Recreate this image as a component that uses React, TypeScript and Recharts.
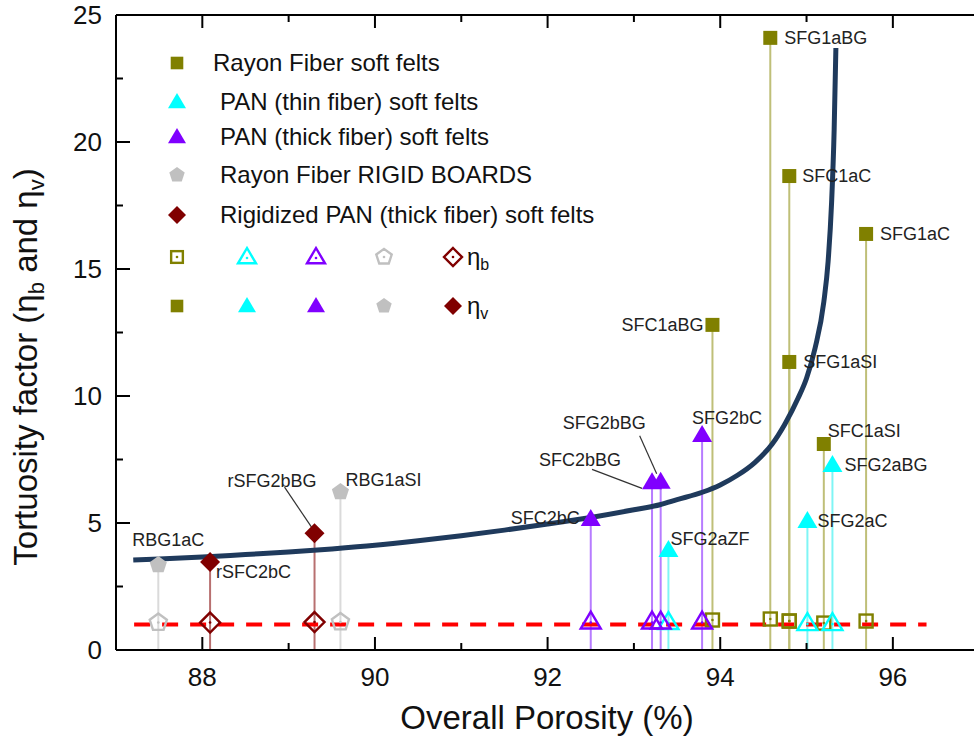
import { ComposedChart, XAxis, YAxis, Line, Scatter, ReferenceLine } from 'recharts';

type Sample = { name: string; porosity: number; etaV: number; etaB: number };

// η_v (filled) and η_b (open) per sample, porosity in %
const rayonSoftFelts: Sample[] = [
  { name: 'SFG1aBG', porosity: 94.58, etaV: 24.1, etaB: 1.22 },
  { name: 'SFC1aC', porosity: 94.8, etaV: 18.66, etaB: 1.14 },
  { name: 'SFG1aC', porosity: 95.69, etaV: 16.38, etaB: 1.14 },
  { name: 'SFC1aBG', porosity: 93.91, etaV: 12.8, etaB: 1.18 },
  { name: 'SFG1aSI', porosity: 94.8, etaV: 11.34, etaB: 1.14 },
  { name: 'SFC1aSI', porosity: 95.2, etaV: 8.11, etaB: 1.06 },
];

const panThinSoftFelts: Sample[] = [
  { name: 'SFG2aZF', porosity: 93.4, etaV: 3.94, etaB: 1.1 },
  { name: 'SFG2aC', porosity: 95.01, etaV: 5.08, etaB: 1.06 },
  { name: 'SFG2aBG', porosity: 95.3, etaV: 7.28, etaB: 1.06 },
];

const panThickSoftFelts: Sample[] = [
  { name: 'SFC2bC', porosity: 92.5, etaV: 5.16, etaB: 1.12 },
  { name: 'SFC2bBG', porosity: 93.21, etaV: 6.6, etaB: 1.12 },
  { name: 'SFG2bBG', porosity: 93.31, etaV: 6.62, etaB: 1.12 },
  { name: 'SFG2bC', porosity: 93.79, etaV: 8.46, etaB: 1.12 },
];

const rayonRigidBoards: Sample[] = [
  { name: 'RBG1aC', porosity: 87.49, etaV: 3.35, etaB: 1.08 },
  { name: 'RBG1aSI', porosity: 89.6, etaV: 6.22, etaB: 1.1 },
];

const rigidizedPan: Sample[] = [
  { name: 'rSFC2bC', porosity: 88.09, etaV: 3.46, etaB: 1.08 },
  { name: 'rSFG2bBG', porosity: 89.3, etaV: 4.6, etaB: 1.1 },
];

// fitted curve
const curvePorosity = [87.2, 87.5, 88, 88.5, 89, 89.5, 90, 90.5, 91, 91.5, 92, 92.5, 93, 93.3, 93.5, 93.8, 94, 94.2, 94.4, 94.6, 94.75, 94.9, 95, 95.1, 95.2, 95.25, 95.29, 95.32, 95.34];
const curveEta = [3.54, 3.58, 3.66, 3.76, 3.86, 3.98, 4.12, 4.3, 4.5, 4.72, 4.96, 5.22, 5.52, 5.72, 5.92, 6.22, 6.5, 6.88, 7.38, 8.1, 8.9, 9.9, 10.7, 11.9, 13.7, 15.3, 17.6, 20.5, 23.7];

// η = 1 reference
const unityPorosity = [87.21, 96.39];
const unityEta = [1, 1];

const xTicks = [88, 89, 90, 91, 92, 93, 94, 95, 96];
const yTicks = [0, 2.5, 5, 7.5, 10, 12.5, 15, 17.5, 20, 22.5, 25];

type Shape = 'square' | 'triangle' | 'pentagon' | 'diamond';

const series = [
  { title: 'Rayon Fiber soft felts', color: '#808000', drop: '#bfbf78', shape: 'square' as Shape, samples: rayonSoftFelts },
  { title: 'PAN (thin fiber) soft felts', color: '#00ffff', drop: '#7ff5f5', shape: 'triangle' as Shape, samples: panThinSoftFelts },
  { title: 'PAN (thick fiber) soft felts', color: '#8000ff', drop: '#b77cff', shape: 'triangle' as Shape, samples: panThickSoftFelts },
  { title: 'Rayon Fiber RIGID BOARDS', color: '#c0c0c0', drop: '#dadada', shape: 'pentagon' as Shape, samples: rayonRigidBoards },
  { title: 'Rigidized PAN (thick fiber) soft felts', color: '#800000', drop: '#b87070', shape: 'diamond' as Shape, samples: rigidizedPan },
];

// label offsets relative to the filled marker
const labelPlace: Record<string, { dx: number; dy: number; anchor?: 'start' | 'end'; leader?: number[] }> = {
  SFG1aBG: { dx: 14, dy: 0 },
  SFC1aC: { dx: 13, dy: 0 },
  SFG1aC: { dx: 14, dy: 0 },
  SFC1aBG: { dx: -9, dy: 0, anchor: 'end' },
  SFG1aSI: { dx: 14, dy: 0 },
  SFC1aSI: { dx: 4, dy: -13 },
  SFG2aBG: { dx: 12, dy: 0 },
  SFG2aC: { dx: 10, dy: 0 },
  SFG2aZF: { dx: 2, dy: -11 },
  SFG2bC: { dx: -10, dy: -17 },
  SFG2bBG: { dx: -15, dy: -59, anchor: 'end', leader: [-21, -46, -4, -8] },
  SFC2bBG: { dx: -31, dy: -22, anchor: 'end', leader: [-60, -13, -10, 6] },
  SFC2bC: { dx: -11, dy: -1, anchor: 'end' },
  RBG1aC: { dx: -26, dy: -25 },
  rSFC2bC: { dx: 6, dy: 10 },
  rSFG2bBG: { dx: 2, dy: -52, anchor: 'end', leader: [-30, -46, -3, -6] },
  RBG1aSI: { dx: 5, dy: -12 },
};

const FONT = '"Liberation Sans", Arial, sans-serif';

const Marker = ({ shape, cx, cy, color, hollow, s = 1 }: { shape: Shape; cx: number; cy: number; color: string; hollow?: boolean; s?: number }) => {
  const fill = hollow ? 'none' : color;
  const stroke = hollow ? color : 'none';
  const sw = hollow ? 2.4 : 0;
  let el;
  if (shape === 'square') {
    const h = hollow ? 6.5 * s : 7 * s;
    el = <rect x={cx - h} y={cy - h} width={2 * h} height={2 * h} fill={fill} stroke={stroke} strokeWidth={sw} />;
  } else if (shape === 'triangle') {
    const pts = `${cx},${cy - 10 * s} ${cx + 10 * s},${cy + 7 * s} ${cx - 10 * s},${cy + 7 * s}`;
    el = <polygon points={pts} fill={fill} stroke={stroke} strokeWidth={sw} strokeLinejoin="miter" />;
  } else if (shape === 'pentagon') {
    const r = 9 * s;
    const pts = [0, 1, 2, 3, 4]
      .map((k) => {
        const a = -Math.PI / 2 + (k * 2 * Math.PI) / 5;
        return `${cx + r * Math.cos(a)},${cy + r * Math.sin(a)}`;
      })
      .join(' ');
    el = <polygon points={pts} fill={fill} stroke={stroke} strokeWidth={sw} />;
  } else {
    const r = 10 * s;
    const pts = `${cx},${cy - r} ${cx + r},${cy} ${cx},${cy + r} ${cx - r},${cy}`;
    el = <polygon points={pts} fill={fill} stroke={stroke} strokeWidth={sw} />;
  }
  return (
    <g>
      {el}
      {hollow && <circle cx={cx} cy={shape === 'triangle' ? cy + 1 : cy} r={1.3} fill={color} />}
    </g>
  );
};

const BottomTick = (props: any) => {
  const { x, y, payload } = props;
  const major = payload.value % 2 === 0;
  return (
    <g>
      <line x1={x} x2={x} y1={y} y2={y - (major ? 13 : 7)} stroke="#000" strokeWidth={2} />
      {major && (
        <text x={x} y={y + 36} textAnchor="middle" fontSize={26} fontFamily={FONT} fill="#111">
          {payload.value}
        </text>
      )}
    </g>
  );
};

const TopTick = (props: any) => {
  const { x, y, payload } = props;
  const major = payload.value % 2 === 0;
  return <line x1={x} x2={x} y1={y} y2={y + (major ? 13 : 7)} stroke="#000" strokeWidth={2} />;
};

const LeftTick = (props: any) => {
  const { x, y, payload } = props;
  const major = payload.value % 5 === 0;
  return (
    <g>
      <line x1={x} x2={x + (major ? 14 : 7)} y1={y} y2={y} stroke="#000" strokeWidth={2} />
      {major && (
        <text x={x - 14} y={y + 9} textAnchor="end" fontSize={26} fontFamily={FONT} fill="#111">
          {payload.value}
        </text>
      )}
    </g>
  );
};

const SampleLabel = (props: any) => {
  const { cx, cy, payload } = props;
  const pl = labelPlace[payload.name] || { dx: 10, dy: 0 };
  return (
    <g>
      {pl.leader && (
        <line x1={cx + pl.leader[0]} y1={cy + pl.leader[1]} x2={cx + pl.leader[2]} y2={cy + pl.leader[3]} stroke="#333" strokeWidth={1.2} />
      )}
      <text x={cx + pl.dx} y={cy + pl.dy + 6} textAnchor={pl.anchor || 'start'} fontSize={18} fontFamily={FONT} fill="#222">
        {payload.name}
      </text>
    </g>
  );
};

export default function App() {
  const curveData = curvePorosity.map((x, i) => ({ x, y: curveEta[i] }));
  const unityData = unityPorosity.map((x, i) => ({ x, y: unityEta[i] }));
  const legendY = [63, 102, 137, 175, 215];
  const symbolX = [177, 247, 316, 384, 453];

  return (
    <div style={{ position: 'relative', width: 974, height: 750, background: '#fff' }}>
      <style>{`html, body { margin: 0; padding: 0; overflow: hidden; }`}</style>
      <ComposedChart width={974} height={750} margin={{ top: 0, right: 0, bottom: 0, left: 0 }}>
        <XAxis
          xAxisId="b"
          type="number"
          dataKey="x"
          domain={[87, 96.94]}
          allowDataOverflow
          ticks={xTicks}
          interval={0}
          tick={BottomTick}
          tickLine={false}
          tickSize={0}
          tickMargin={0}
          axisLine={{ stroke: '#000', strokeWidth: 2 }}
          height={100}
        />
        <XAxis
          xAxisId="t"
          orientation="top"
          type="number"
          dataKey="x"
          domain={[87, 96.94]}
          allowDataOverflow
          ticks={xTicks}
          interval={0}
          tick={TopTick}
          tickLine={false}
          tickSize={0}
          tickMargin={0}
          axisLine={{ stroke: '#000', strokeWidth: 2 }}
          height={15}
        />
        <YAxis
          type="number"
          dataKey="y"
          domain={[0, 25]}
          allowDataOverflow
          ticks={yTicks}
          interval={0}
          tick={LeftTick}
          tickLine={false}
          tickSize={0}
          tickMargin={0}
          axisLine={{ stroke: '#000', strokeWidth: 2 }}
          width={116}
        />

        {series.flatMap((s) =>
          s.samples.map((d) => (
            <ReferenceLine
              key={`drop-${d.name}`}
              xAxisId="b"
              segment={[
                { x: d.porosity, y: 0 },
                { x: d.porosity, y: d.etaV },
              ]}
              stroke={s.drop}
              strokeWidth={2}
              ifOverflow="visible"
            />
          ))
        )}

        {series.map((s) => (
          <Scatter
            key={`lbl-${s.title}`}
            xAxisId="b"
            data={s.samples.map((d) => ({ x: d.porosity, y: d.etaV, name: d.name }))}
            shape={SampleLabel}
            isAnimationActive={false}
          />
        ))}

        <Line
          xAxisId="b"
          data={curveData}
          dataKey="y"
          type="monotone"
          stroke="#1f3a5c"
          strokeWidth={5}
          dot={false}
          isAnimationActive={false}
        />

        {series.map((s) => (
          <Scatter
            key={`b-${s.title}`}
            xAxisId="b"
            data={s.samples.map((d) => ({ x: d.porosity, y: d.etaB, name: d.name }))}
            shape={(p: any) => <Marker shape={s.shape} cx={p.cx} cy={p.cy} color={s.color} hollow />}
            isAnimationActive={false}
          />
        ))}

        <Line
          xAxisId="b"
          data={unityData}
          dataKey="y"
          type="linear"
          stroke="#ff0000"
          strokeWidth={4}
          strokeDasharray="16 12"
          dot={false}
          isAnimationActive={false}
        />

        {series.map((s) => (
          <Scatter
            key={`v-${s.title}`}
            xAxisId="b"
            data={s.samples.map((d) => ({ x: d.porosity, y: d.etaV, name: d.name }))}
            shape={(p: any) => <Marker shape={s.shape} cx={p.cx} cy={p.cy} color={s.color} />}
            isAnimationActive={false}
          />
        ))}
      </ComposedChart>

      <svg width={974} height={750} style={{ position: 'absolute', left: 0, top: 0, pointerEvents: 'none' }}>
        {series.map((s, i) => (
          <g key={s.title}>
            <Marker shape={s.shape} cx={177} cy={legendY[i]} color={s.color} s={0.9} />
            <text x={i === 0 ? 213 : 220} y={legendY[i] + 8} fontSize={24} fontFamily={FONT} fill="#111">
              {s.title}
            </text>
          </g>
        ))}
        {series.map((s, i) => (
          <g key={`eta-${s.title}`}>
            <Marker shape={s.shape} cx={symbolX[i]} cy={257} color={s.color} hollow s={0.9} />
            <Marker shape={s.shape} cx={symbolX[i]} cy={306} color={s.color} s={0.9} />
          </g>
        ))}
        <text x={467} y={265} fontSize={24} fontFamily={FONT} fill="#111">
          η<tspan dy={5} fontSize={16}>b</tspan>
        </text>
        <text x={467} y={314} fontSize={24} fontFamily={FONT} fill="#111">
          η<tspan dy={5} fontSize={16}>v</tspan>
        </text>

        <text x={547} y={729} textAnchor="middle" fontSize={33} fontFamily={FONT} fill="#111">
          Overall Porosity (%)
        </text>
        <text transform="translate(37,367) rotate(-90)" textAnchor="middle" fontSize={33} fontFamily={FONT} fill="#111">
          Tortuosity factor (η<tspan dy={7} fontSize={22}>b</tspan>
          <tspan dy={-7}> and η</tspan>
          <tspan dy={7} fontSize={22}>v</tspan>
          <tspan dy={-7}>)</tspan>
        </text>
      </svg>
    </div>
  );
}
